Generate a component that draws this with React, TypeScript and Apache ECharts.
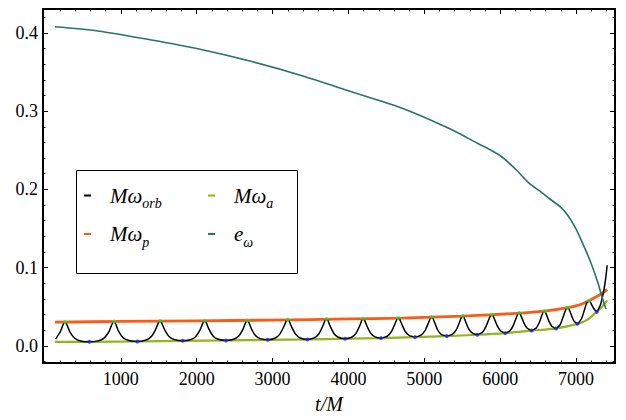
import React, { useEffect, useRef } from "react";
import * as echarts from "echarts";

// ---------------- data ----------------
const periTimes = [264, 909, 1516, 2105, 2666, 3199, 3710, 4195, 4657, 5097, 5506, 5888, 6248, 6581, 6887, 7168];
const periOmega = [0.0303, 0.0311, 0.0316, 0.032, 0.0324, 0.0332, 0.0341, 0.0345, 0.0354, 0.0367, 0.038, 0.0396, 0.0418, 0.0443, 0.0486, 0.0575];
const apoTimes = [584, 1217, 1815, 2386, 2935, 3457, 3954, 4429, 4877, 5295, 5698, 6067, 6415, 6735, 7019, 7272];
const apoOmega = [0.0051, 0.0055, 0.0064, 0.0068, 0.0077, 0.0081, 0.009, 0.0098, 0.0111, 0.0124, 0.0141, 0.0162, 0.0196, 0.0221, 0.0281, 0.0435];

const omegaOrb: [number, number][] = [
  [140, 0.0085], [200, 0.0176], [238, 0.0267], [264, 0.0303],
  [290, 0.0268], [328, 0.0177], [392, 0.0096], [469, 0.0062], [584, 0.0051],
  [701, 0.0063], [779, 0.0098], [844, 0.0181], [883, 0.0275], [909, 0.0311],
  [934, 0.0275], [971, 0.0183], [1032, 0.0101], [1106, 0.0067], [1217, 0.0055],
  [1325, 0.0071], [1396, 0.0112], [1456, 0.0204], [1492, 0.0287], [1516, 0.0316],
  [1540, 0.0288], [1576, 0.0208], [1636, 0.0119], [1707, 0.0079], [1815, 0.0064],
  [1919, 0.0079], [1989, 0.012], [2047, 0.021], [2082, 0.0292], [2105, 0.032],
  [2127, 0.0292], [2161, 0.0212], [2217, 0.0123], [2285, 0.0083], [2386, 0.0068],
  [2487, 0.0083], [2554, 0.0124], [2610, 0.0214], [2644, 0.0296], [2666, 0.0324],
  [2688, 0.0297], [2720, 0.0218], [2774, 0.0131], [2838, 0.0092], [2935, 0.0077],
  [3030, 0.0096], [3093, 0.0146], [3146, 0.024], [3178, 0.0312], [3199, 0.0332],
  [3220, 0.0312], [3251, 0.0242], [3302, 0.0149], [3364, 0.01], [3457, 0.0081],
  [3548, 0.0101], [3609, 0.0151], [3659, 0.0247], [3690, 0.032], [3710, 0.0341],
  [3730, 0.0321], [3759, 0.0251], [3808, 0.0158], [3866, 0.0109], [3954, 0.009],
  [4041, 0.0109], [4099, 0.0159], [4147, 0.0253], [4176, 0.0325], [4195, 0.0345],
  [4214, 0.0325], [4242, 0.0256], [4289, 0.0165], [4345, 0.0117], [4429, 0.0098],
  [4511, 0.0122], [4566, 0.018], [4611, 0.0277], [4639, 0.0339], [4657, 0.0354],
  [4675, 0.0339], [4701, 0.0281], [4745, 0.0189], [4798, 0.0134], [4877, 0.0111],
  [4956, 0.0135], [5009, 0.0193], [5053, 0.029], [5079, 0.0352], [5097, 0.0367],
  [5113, 0.0352], [5137, 0.0294], [5176, 0.0202], [5222, 0.0147], [5295, 0.0124],
  [5371, 0.0148], [5422, 0.0206], [5464, 0.0303], [5489, 0.0365], [5506, 0.038],
  [5521, 0.0366], [5544, 0.0308], [5583, 0.0218], [5629, 0.0164], [5698, 0.0141],
  [5766, 0.0174], [5812, 0.0246], [5850, 0.0337], [5873, 0.0385], [5888, 0.0396],
  [5902, 0.0386], [5924, 0.0342], [5960, 0.0258], [6003, 0.0192], [6067, 0.0162],
  [6132, 0.0195], [6176, 0.0267], [6212, 0.0359], [6234, 0.0407], [6248, 0.0418],
  [6261, 0.0409], [6281, 0.0367], [6315, 0.0287], [6355, 0.0225], [6415, 0.0196],
  [6475, 0.0228], [6515, 0.0297], [6548, 0.0386], [6568, 0.0432], [6581, 0.0443],
  [6593, 0.0434], [6612, 0.0392], [6643, 0.0312], [6680, 0.025], [6735, 0.0221],
  [6790, 0.0269], [6826, 0.0359], [6857, 0.0446], [6875, 0.0478], [6887, 0.0486],
  [6898, 0.048], [6913, 0.0455], [6940, 0.0388], [6971, 0.0318], [7019, 0.0281],
  [7073, 0.0349], [7108, 0.0452], [7138, 0.054], [7156, 0.0569], [7168, 0.0575],
  [7176, 0.0572], [7189, 0.0558], [7210, 0.0516], [7239, 0.0467], [7272, 0.0435],
  [7320, 0.052], [7360, 0.068], [7390, 0.086], [7410, 0.103],
];

const omegaP: [number, number][] = [
  [130, 0.0302], [1000, 0.0311], [2000, 0.0319], [3000, 0.0329], [4000, 0.0343],
  [4700, 0.0355], [5100, 0.0367], [5500, 0.038], [5900, 0.0397], [6250, 0.0418],
  [6580, 0.0443], [6890, 0.0487], [7050, 0.0525], [7170, 0.0575], [7280, 0.0635],
  [7350, 0.0675], [7410, 0.0722],
];

const omegaA: [number, number][] = [
  [130, 0.0049], [584, 0.0051], [1217, 0.0055], [1815, 0.0063], [2386, 0.0068],
  [2935, 0.0076], [3457, 0.0082], [3954, 0.009], [4429, 0.0099], [4877, 0.0111],
  [5295, 0.0124], [5698, 0.0141], [6067, 0.0163], [6415, 0.0194], [6735, 0.0223],
  [7019, 0.028], [7150, 0.0335], [7272, 0.0435], [7350, 0.051], [7410, 0.058],
];

const eccOmega: [number, number][] = [
  [130, 0.408], [700, 0.4025], [1400, 0.391], [2000, 0.38], [2700, 0.364],
  [3400, 0.345], [4000, 0.326], [4700, 0.304], [5300, 0.279], [5700, 0.259],
  [6000, 0.243], [6200, 0.226], [6380, 0.208], [6520, 0.198], [6650, 0.188],
  [6800, 0.177], [6890, 0.167], [6990, 0.151], [7100, 0.128], [7200, 0.105],
  [7290, 0.08], [7340, 0.063], [7395, 0.047],
];

const xMajorTicks = [1000, 2000, 3000, 4000, 5000, 6000, 7000];
const xMinorTicks = [200, 400, 600, 800, 1200, 1400, 1600, 1800, 2200, 2400, 2600, 2800, 3200, 3400, 3600, 3800, 4200, 4400, 4600, 4800, 5200, 5400, 5600, 5800, 6200, 6400, 6600, 6800, 7200, 7400];
const yMajorTicks = [0, 0.1, 0.2, 0.3, 0.4];
const yMinorTicks = [-0.02, 0.02, 0.04, 0.06, 0.08, 0.12, 0.14, 0.16, 0.18, 0.22, 0.24, 0.26, 0.28, 0.32, 0.34, 0.36, 0.38, 0.42];

const X_MIN = -26;
const X_MAX = 7513;
const Y_MIN = -0.022;
const Y_MAX = 0.4306;

const FONT = "Liberation Serif";

function xAxisDef(position: string, ticks: number[], len: number, line: boolean, label: boolean) {
  return {
    type: "value",
    position,
    min: X_MIN,
    max: X_MAX,
    axisLine: { show: line, onZero: false, lineStyle: { color: "#000", width: 2 } },
    axisTick: { show: true, inside: true, length: len, customValues: ticks, lineStyle: { color: "#000", width: 1 } },
    axisLabel: {
      show: label,
      customValues: ticks,
      color: "#000",
      fontFamily: FONT,
      fontSize: 18,
      margin: 7,
      formatter: (v: number) => String(Math.round(v)),
    },
    splitLine: { show: false },
  } as any;
}

function yAxisDef(position: string, ticks: number[], len: number, line: boolean, label: boolean) {
  return {
    type: "value",
    position,
    min: Y_MIN,
    max: Y_MAX,
    axisLine: { show: line, onZero: false, lineStyle: { color: "#000", width: 2 } },
    axisTick: { show: true, inside: true, length: len, customValues: ticks, lineStyle: { color: "#000", width: 1 } },
    axisLabel: {
      show: label,
      customValues: ticks,
      color: "#000",
      fontFamily: FONT,
      fontSize: 18,
      margin: 5,
      formatter: (v: number) => v.toFixed(1),
    },
    splitLine: { show: false },
  } as any;
}

const legendText: Record<string, string> = {
  "Mω_orb": "{g| }{m|Mω}{s|orb}",
  "Mω_a": "{g| }{m|Mω}{s|a}",
  "Mω_p": "{g| }{m|Mω}{s|p}",
  "e_ω": "{g| }{m|e}{s|ω}",
};

function legendDef(left: number, names: string[]) {
  return {
    left,
    top: 185,
    orient: "vertical",
    padding: 0,
    itemGap: 13,
    itemWidth: 7,
    itemHeight: 2,
    icon: "rect",
    selectedMode: false,
    data: names,
    formatter: (name: string) => legendText[name] || name,
    textStyle: {
      color: "#000",
      fontFamily: FONT,
      rich: {
        g: { width: 14, fontSize: 10, lineHeight: 30 },
        m: { fontFamily: FONT, fontStyle: "italic", fontSize: 21, lineHeight: 30, color: "#000" },
        s: { fontFamily: FONT, fontStyle: "italic", fontSize: 14, lineHeight: 16, verticalAlign: "bottom", color: "#000" },
      },
    },
    z: 10,
  } as any;
}

export default function App() {
  const ref = useRef<HTMLDivElement>(null);

  useEffect(() => {
    document.body.style.margin = "0";
    if (!ref.current) return;
    const chart = echarts.init(ref.current, null, { renderer: "svg" });

    const bottomX = xAxisDef("bottom", xMajorTicks, 5, true, true);
    bottomX.name = "t/M";
    bottomX.nameLocation = "middle";
    bottomX.nameGap = 31;
    bottomX.nameTextStyle = { fontFamily: FONT, fontStyle: "italic", fontSize: 20, color: "#000" };

    chart.setOption({
      animation: false,
      backgroundColor: "#fff",
      grid: { left: 43, right: 11, top: 9, bottom: 57, containLabel: false, outerBoundsMode: "none" },
      xAxis: [
        bottomX,
        xAxisDef("bottom", xMinorTicks, 2.5, false, false),
        xAxisDef("top", xMajorTicks, 5, true, false),
        xAxisDef("top", xMinorTicks, 2.5, false, false),
      ],
      yAxis: [
        yAxisDef("left", yMajorTicks, 5, true, true),
        yAxisDef("left", yMinorTicks, 2.5, false, false),
        yAxisDef("right", yMajorTicks, 5, true, false),
        yAxisDef("right", yMinorTicks, 2.5, false, false),
      ],
      graphic: [
        {
          type: "rect",
          x: 76.5,
          y: 170.5,
          shape: { width: 221, height: 103 },
          style: { fill: "#fff", stroke: "#000", lineWidth: 1 },
          z: 9,
        },
      ],
      legend: [legendDef(84, ["Mω_orb", "Mω_p"]), legendDef(208, ["Mω_a", "e_ω"])],
      series: [
        {
          name: "Mω_a",
          type: "line",
          data: omegaA,
          showSymbol: false,
          smooth: 0.3,
          color: "#92b51c",
          lineStyle: { color: "#92b51c", width: 2.2 },
          z: 2,
        },
        {
          name: "Mω_p",
          type: "line",
          data: omegaP,
          showSymbol: false,
          smooth: 0.3,
          color: "#ff5a14",
          lineStyle: { color: "#ff5a14", width: 2.8 },
          z: 3,
        },
        {
          name: "Mω_orb",
          type: "line",
          data: omegaOrb,
          showSymbol: false,
          smooth: 0.15,
          color: "#000",
          lineStyle: { color: "#000", width: 1.5 },
          z: 4,
        },
        {
          name: "e_ω",
          type: "line",
          data: eccOmega,
          showSymbol: false,
          smooth: 0.3,
          color: "#2a7466",
          lineStyle: { color: "#2a7466", width: 1.6 },
          z: 5,
        },
        {
          name: "periapsis",
          type: "scatter",
          data: periTimes.map((t, i) => [t, periOmega[i]]),
          symbolSize: 4,
          itemStyle: { color: "#33e633" },
          z: 6,
        },
        {
          name: "apoapsis",
          type: "scatter",
          data: apoTimes.map((t, i) => [t, apoOmega[i]]),
          symbolSize: 4,
          itemStyle: { color: "#1f24ff" },
          z: 6,
        },
      ],
    });

    return () => {
      chart.dispose();
    };
  }, []);

  return (
    <div
      ref={ref}
      style={{ position: "fixed", left: 0, top: 0, width: 626, height: 420, background: "#fff" }}
    />
  );
}
